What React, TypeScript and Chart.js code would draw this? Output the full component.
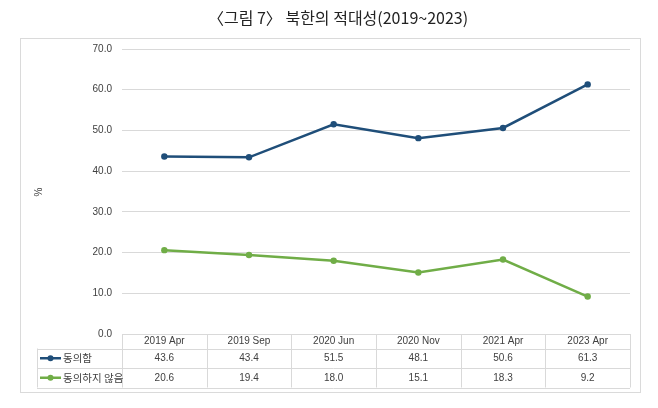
import React, { useEffect, useRef } from "react";
import { Chart, registerables } from "chart.js";

Chart.register(...registerables);

const TITLE = "〈그림 7〉 북한의 적대성(2019~2023)";
const categories = ["2019 Apr", "2019 Sep", "2020 Jun", "2020 Nov", "2021 Apr", "2023 Apr"];
const agreeLabel = "동의함";
const disagreeLabel = "동의하지 않음";
const agreeValues = [43.6, 43.4, 51.5, 48.1, 50.6, 61.3];
const disagreeValues = [20.6, 19.4, 18.0, 15.1, 18.3, 9.2];
const yTicks = [0, 10, 20, 30, 40, 50, 60, 70];
const yUnit = "%";

const BLUE = "#1F4E79";
const GREEN = "#70AD47";
const TEXT = "#404040";
const GRID = "#D9D9D9";
const FONT = "'Liberation Sans', 'Noto Sans CJK KR', sans-serif";

const extrasPlugin = {
  id: "extras",
  afterDraw(chart: any) {
    const ctx = chart.ctx;
    const area = chart.chartArea;
    const xs = chart.scales.x;
    ctx.save();
    // outer frame
    ctx.strokeStyle = "#DADADA";
    ctx.lineWidth = 1;
    ctx.strokeRect(20.5, 38.5, 620, 354);
    // title
    ctx.fillStyle = "#222";
    ctx.font = "16px 'Noto Sans CJK KR', sans-serif";
    ctx.textAlign = "center";
    ctx.textBaseline = "middle";
    ctx.fillText(TITLE, 338, 18);
    // y unit
    ctx.save();
    ctx.translate(39, 192);
    ctx.rotate(-Math.PI / 2);
    ctx.font = "10px " + FONT;
    ctx.fillStyle = TEXT;
    ctx.fillText(yUnit, 0, 0);
    ctx.restore();

    // table
    const n = categories.length;
    const colW = (area.right - area.left) / n;
    const top = area.bottom;
    const r1 = top + 14.5;
    const r2 = r1 + 19.5;
    const r3 = r2 + 19.5;
    const leftX = 37;
    ctx.strokeStyle = GRID;
    ctx.lineWidth = 1;
    ctx.beginPath();
    ctx.moveTo(area.left, Math.round(top) + 0.5);
    ctx.lineTo(area.right, Math.round(top) + 0.5);
    [r1, r2, r3].forEach((y) => {
      ctx.moveTo(leftX, Math.round(y) + 0.5);
      ctx.lineTo(area.right, Math.round(y) + 0.5);
    });
    for (let i = 0; i <= n; i++) {
      const x = Math.round(area.left + i * colW) + 0.5;
      ctx.moveTo(x, top);
      ctx.lineTo(x, r3);
    }
    ctx.moveTo(leftX + 0.5, r1);
    ctx.lineTo(leftX + 0.5, r3);
    ctx.stroke();

    ctx.font = "10px " + FONT;
    ctx.fillStyle = TEXT;
    ctx.textAlign = "center";
    ctx.textBaseline = "middle";
    categories.forEach((c, i) => {
      const x = xs.getPixelForValue(i);
      ctx.fillText(c, x, (top + r1) / 2);
      ctx.fillText(agreeValues[i].toFixed(1), x, (r1 + r2) / 2);
      ctx.fillText(disagreeValues[i].toFixed(1), x, (r2 + r3) / 2);
    });

    const rows = [
      { label: agreeLabel, color: BLUE, y: (r1 + r2) / 2 },
      { label: disagreeLabel, color: GREEN, y: (r2 + r3) / 2 },
    ];
    rows.forEach((r) => {
      ctx.strokeStyle = r.color;
      ctx.lineWidth = 2.5;
      ctx.beginPath();
      ctx.moveTo(40, r.y);
      ctx.lineTo(61, r.y);
      ctx.stroke();
      ctx.fillStyle = r.color;
      ctx.beginPath();
      ctx.arc(50.5, r.y, 3, 0, Math.PI * 2);
      ctx.fill();
      ctx.fillStyle = TEXT;
      ctx.textAlign = "left";
      ctx.font = "10.5px 'Noto Sans CJK KR', sans-serif";
      ctx.fillText(r.label, 63, r.y);
    });
    ctx.restore();
  },
};

export default function App() {
  const ref = useRef<HTMLCanvasElement | null>(null);
  useEffect(() => {
    if (!ref.current) return;
    const chart = new Chart(ref.current, {
      type: "line",
      data: {
        labels: categories,
        datasets: [
          {
            label: agreeLabel,
            data: agreeValues,
            borderColor: BLUE,
            backgroundColor: BLUE,
            borderWidth: 2.5,
            pointRadius: 3.2,
            pointBorderWidth: 0,
            tension: 0,
          },
          {
            label: disagreeLabel,
            data: disagreeValues,
            borderColor: GREEN,
            backgroundColor: GREEN,
            borderWidth: 2.5,
            pointRadius: 3.2,
            pointBorderWidth: 0,
            tension: 0,
          },
        ],
      },
      options: {
        animation: false,
        responsive: false,
        devicePixelRatio: 1,
        layout: { padding: { left: 0, right: 28, top: 49, bottom: 74 } },
        plugins: { legend: { display: false }, tooltip: { enabled: false }, title: { display: false } },
        scales: {
          x: {
            type: "category",
            offset: true,
            display: false,
          },
          y: {
            min: 0,
            max: 70,
            afterBuildTicks: (s: any) => {
              s.ticks = yTicks.map((v) => ({ value: v }));
            },
            afterFit: (s: any) => {
              s.width = 122;
            },
            grid: { color: GRID, drawTicks: false, lineWidth: 1 },
            border: { display: false },
            ticks: {
              padding: 10,
              color: TEXT,
              font: { family: FONT, size: 10 },
              callback: (v: any) => Number(v).toFixed(1),
            },
          },
        },
      },
      plugins: [extrasPlugin],
    });
    return () => chart.destroy();
  }, []);
  return (
    <div style={{ position: "absolute", left: 0, top: 0, width: 658, height: 408, background: "#fff" }}>
      <canvas ref={ref} width={658} height={408} style={{ display: "block" }} />
    </div>
  );
}
